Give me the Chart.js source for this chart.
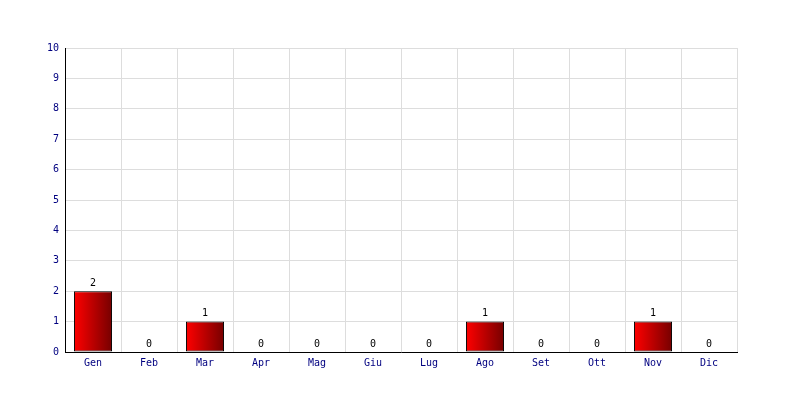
<!DOCTYPE html>
<html>
<head>
<meta charset="utf-8">
<script src="https://cdn.jsdelivr.net/npm/chart.js@4/dist/chart.umd.min.js"></script>
<style>
html,body{margin:0;padding:0;background:#fff;}
#wrap{width:800px;height:400px;position:relative;}
</style>
</head>
<body>
<div id="wrap"><canvas id="c" width="800" height="400"></canvas></div>
<script>
const categories = ["Gen","Feb","Mar","Apr","Mag","Giu","Lug","Ago","Set","Ott","Nov","Dic"];
const values = [2,0,1,0,0,0,0,1,0,0,1,0];
const yTicks = [0,1,2,3,4,5,6,7,8,9,10];

const FONT = "'DejaVu Sans Mono', monospace";
const CAT_PCT = 0.68;

function barGradient(context) {
  const chart = context.chart;
  const xs = chart.scales && chart.scales.x;
  if (!xs || !chart.chartArea || context.dataIndex === undefined) return '#d00000';
  const cx = xs.getPixelForValue(context.dataIndex);
  const w = xs.width / categories.length * CAT_PCT;
  const g = chart.ctx.createLinearGradient(cx - w / 2, 0, cx + w / 2, 0);
  g.addColorStop(0, '#ff0000');
  g.addColorStop(1, '#760000');
  return g;
}

const labelPlugin = {
  id: 'vlabels',
  afterDatasetsDraw(chart) {
    const ctx = chart.ctx;
    ctx.save();
    ctx.font = '10px ' + FONT;
    ctx.fillStyle = '#000';
    ctx.textAlign = 'center';
    ctx.textBaseline = 'bottom';
    chart.getDatasetMeta(0).data.forEach((el, i) => {
      ctx.fillText(String(values[i]), el.x, el.y - 3);
    });
    ctx.restore();
  }
};

new Chart(document.getElementById('c'), {
  type: 'bar',
  data: {
    labels: categories,
    datasets: [{
      data: values,
      backgroundColor: barGradient,
      borderColor: '#000',
      borderWidth: 1,
      borderSkipped: false,
      categoryPercentage: CAT_PCT,
      barPercentage: 1.0
    }]
  },
  options: {
    responsive: false,
    animation: false,
    devicePixelRatio: 1,
    layout: { padding: { left: 0, right: 63, top: 48, bottom: 0 } },
    plugins: { legend: { display: false }, tooltip: { enabled: false } },
    scales: {
      x: {
        grid: { color: '#dddddd', drawTicks: false, offset: true },
        border: { color: '#000', width: 1 },
        ticks: { color: '#000080', font: { family: FONT, size: 10 }, padding: 5, autoSkip: false, maxRotation: 0 },
        afterFit(s) { s.height = 48; }
      },
      y: {
        min: 0, max: 10,
        afterBuildTicks(s) { s.ticks = yTicks.map(v => ({ value: v })); },
        grid: { color: '#dddddd', drawTicks: false },
        border: { color: '#000', width: 1 },
        ticks: { color: '#000080', font: { family: FONT, size: 10 }, padding: 6 },
        afterFit(s) { s.width = 65; }
      }
    }
  },
  plugins: [labelPlugin]
});
</script>
</body>
</html>
